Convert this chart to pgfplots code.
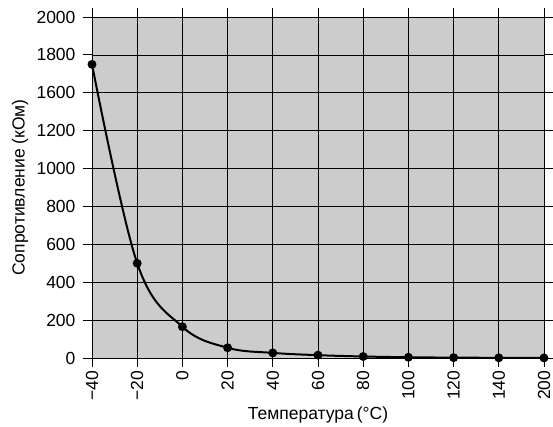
\documentclass[border=0pt]{standalone}
\usepackage{fontspec}
\setmainfont{Liberation Sans}
\usepackage{pgfplots}
\pgfplotsset{compat=1.18}
\definecolor{bggray}{HTML}{CCCCCC}
\begin{document}
\begin{tikzpicture}[x=1pt,y=1pt]
\begin{axis}[
  at={(0,0)}, anchor=south west,
  scale only axis, width=452pt, height=341pt,
  y coord trafo/.code={\pgfmathparse{(#1<=1200) ? #1 : ((#1<=1600) ? (1200+(#1-1200)/2) : (#1-200))}},
  y coord inv trafo/.code={\pgfmathparse{(#1<=1200) ? #1 : ((#1<=1400) ? (1200+(#1-1200)*2) : (#1+200))}},
  xmin=0, xmax=10, ymin=0, ymax=2000,
  axis background/.style={fill=bggray},
  xtick={0,1,2,3,4,5,6,7,8,9,10},
  xticklabels={−40,−20,0,20,40,60,80,100,120,140,200},
  ytick={0,200,400,600,800,1000,1200,1600,1800,2000},
  yticklabels={0,200,400,600,800,1000,1200,1600,1800,2000},
  /pgf/number format/assume math mode=true,
  grid=major,
  major grid style={black, line width=0.7pt},
  axis line style={black, line width=0.8pt},
  tick style={black, line width=0.8pt},
  tick align=outside,
  major tick length=9pt,
  xticklabel style={rotate=90, anchor=east, font=\fontsize{17.5}{19}\selectfont},
  yticklabel style={font=\fontsize{17.5}{19}\selectfont, xshift=-4pt},
  xlabel={Температура\,(°C)},
  ylabel={Сопротивление (кОм)},
  label style={font=\fontsize{17.5}{19}\selectfont},
  xlabel style={at={(axis description cs:0.5,0)}, anchor=center, yshift=-57pt},
  ylabel style={at={(axis description cs:-0.1593,0.5)}, anchor=center},
  clip=false,
]
\addplot[black, line width=2pt, smooth, tension=0.6, mark=*, mark size=3.4pt,
  mark options={solid, fill=black}]
  coordinates {
  (0,1750) (1,500) (2,165) (3,54) (4,27) (5,15) (6,8) (7,4) (8,2) (9,1) (10,0.5)
  };
\end{axis}
\pgfresetboundingbox
\path (-92pt,-68pt) rectangle (461pt,358pt);
\end{tikzpicture}
\end{document}
